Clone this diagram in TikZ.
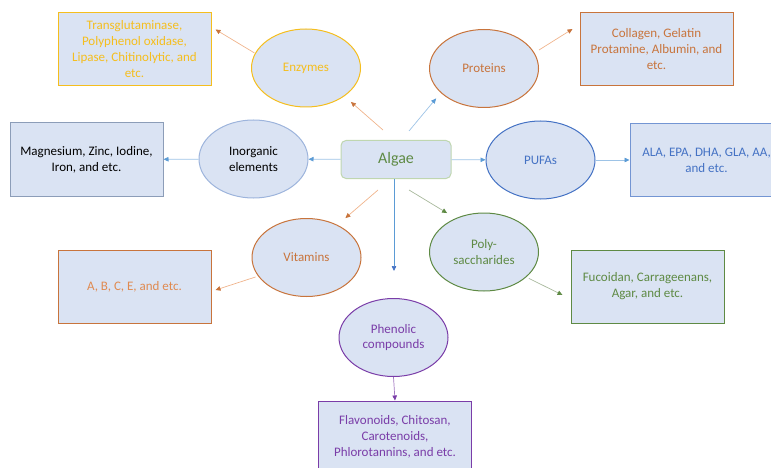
\documentclass[tikz,border=0pt]{standalone}
\usepackage{fontspec}
\setmainfont{Carlito}
\usetikzlibrary{shapes.geometric,arrows.meta,calc}

\definecolor{paleblue}{HTML}{DAE3F3}
\definecolor{yel}{HTML}{F5BE1E}
\definecolor{orng}{HTML}{C8743C}
\definecolor{lorng}{HTML}{E08A50}
\definecolor{orngline}{HTML}{F0B48C}
\definecolor{blu}{HTML}{4472C4}
\definecolor{bluline}{HTML}{9DC3E6}
\definecolor{blutip}{HTML}{5B9BD5}
\definecolor{grn}{HTML}{5E8A44}
\definecolor{grnline}{HTML}{A8B89C}
\definecolor{purp}{HTML}{7A3DA8}
\definecolor{greyblu}{HTML}{9DB4DC}
\definecolor{slate}{HTML}{8C9DB8}
\definecolor{lgrn}{HTML}{BFD6B0}

\tikzset{
  ell/.style={ellipse, draw, fill=paleblue, line width=1pt, minimum width=109pt,
    minimum height=78pt, inner sep=0pt, align=center, font=\fontsize{13}{15.5}\selectfont},
  infobox/.style={rectangle, draw, fill=paleblue, line width=1pt, minimum width=153pt,
    minimum height=73pt, inner sep=0pt, align=center, font=\fontsize{13}{16}\selectfont},
  link/.style={line width=0.7pt, draw=#1},
  tip/.style={-{Triangle[length=5pt,width=4.5pt,color=#1]}},
}

\begin{document}
\begin{tikzpicture}[x=1pt, y=-1pt]
  \clip (0,0) rectangle (771,468);

  % centre
  \node[rectangle, rounded corners=5pt, draw=lgrn, fill=paleblue, line width=1pt,
    minimum width=110pt, minimum height=38pt, text=grn,
    font=\fontsize{16}{18}\selectfont] (algae) at (396,159.5) {Algae};

  % groups
  \node[ell, draw=yel, text=yel] (enz) at (306,68) {Enzymes};
  \node[ell, draw=greyblu, text=black] (inorg) at (253.5,159) {Inorganic\\elements};
  \node[ell, draw=orng, text=orng] (prot) at (484,68.5) {Proteins};
  \node[ell, draw=blu, text=blu] (pufa) at (540.5,160) {PUFAs};
  \node[ell, draw=orng, text=orng] (vit) at (306.5,257.5) {Vitamins};
  \node[ell, draw=grn, text=grn] (poly) at (484,252) {Poly-\\saccharides};
  \node[ell, draw=purp, text=purp] (phen) at (393.5,337.5) {Phenolic\\compounds};

  % examples
  \node[infobox, draw=yel, text=yel] (enzbox) at (134.5,49.5)
    {Transglutaminase,\\Polyphenol oxidase,\\Lipase, Chitinolytic, and\\etc.};
  \node[infobox, draw=slate, text=black] (mgbox) at (86.5,159.5)
    {Magnesium, Zinc, Iodine,\\Iron, and etc.};
  \node[infobox, draw=orng, text=orng] (protbox) at (656.5,49.5)
    {Collagen, Gelatin\\Protamine, Albumin, and\\etc.};
  \node[infobox, draw=blu!75, text=blu] (pufabox) at (706.5,160)
    {ALA, EPA, DHA, GLA, AA,\\and etc.};
  \node[infobox, draw=orng, text=lorng] (vitbox) at (134.5,286.5)
    {A, B, C, E, and etc.};
  \node[infobox, draw=grn, text=grn] (polybox) at (647.5,286.5)
    {Fucoidan, Carrageenans,\\Agar, and etc.};
  \node[infobox, draw=purp, text=purp, minimum height=72pt] (phenbox) at (395,437)
    {Flavonoids, Chitosan,\\Carotenoids,\\Phlorotannins, and etc.};

  % connectors
  \draw[link=orngline, tip=orng] ($(algae.north)+(-13,-10)$) -- ($(enz.south east)+(6,6)$);
  \draw[link=orngline, tip=orng] ($(enz.west)+(3.5,-15)$) -- ($(enzbox.north east)+(4,17)$);
  \draw[link=bluline, tip=blutip] (algae) -- (inorg);
  \draw[link=bluline, tip=blutip] (inorg) -- (mgbox);
  \draw[link=bluline, tip=blutip] ($(algae.north)+(13,-9)$) -- ($(prot.south west)+(-9,2)$);
  \draw[link=orngline, tip=orng] ($(prot.east)+(0,-18.5)$) -- ($(protbox.west)+(-7,-20.5)$);
  \draw[link=bluline, tip=blutip] (algae) -- (pufa);
  \draw[link=bluline, tip=blutip] (pufa) -- (pufabox);
  \draw[link=orngline, tip=orng] ($(algae.south)+(-18,11)$) -- ($(vit.north east)+(0,-11.5)$);
  \draw[link=orngline, tip=orng] ($(vit.west)+(4,19.5)$) -- ($(vitbox.east)+(4,3.5)$);
  \draw[link=grnline, tip=grn] ($(algae.south)+(13,11)$) -- ($(poly.north west)+(2,-11)$);
  \draw[link=grnline, tip=grn] ($(poly.south east)+(6,-1.5)$) -- ($(polybox.west)+(-8,8.5)$);
  \draw[link=blutip, tip=blu] ($(algae.south)+(-2,0)$) -- ($(phen.north)+(0.5,-27)$);
  \draw[link=purp!70, tip=purp] (phen.south) -- (phenbox.north);
\end{tikzpicture}
\end{document}
